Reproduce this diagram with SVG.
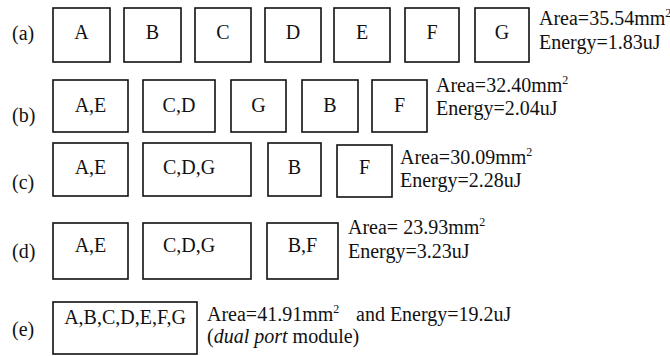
<svg xmlns="http://www.w3.org/2000/svg" width="670" height="356" viewBox="0 0 670 356">
<style>
  .bx{fill:#fff;stroke:#111;stroke-width:1.6}
  text{font-family:"Liberation Serif","Times New Roman",serif;font-size:20px;fill:#111}
  .c{text-anchor:middle}
  .sup{font-size:12px}
</style>
<rect width="670" height="356" fill="#fff"/>
<g id="labels">
  <text x="12" y="40">(a)</text>
  <text x="12" y="122">(b)</text>
  <text x="12" y="189">(c)</text>
  <text x="12" y="258">(d)</text>
  <text x="12" y="336">(e)</text>
</g>
<g id="row-a">
  <g id="a-A"><rect class="bx" x="53" y="8" width="57" height="54"/><text class="c" x="81.5" y="39">A</text></g>
  <g id="a-B"><rect class="bx" x="124" y="8" width="57" height="54"/><text class="c" x="152.5" y="39">B</text></g>
  <g id="a-C"><rect class="bx" x="195" y="8" width="56" height="54"/><text class="c" x="223" y="39">C</text></g>
  <g id="a-D"><rect class="bx" x="265" y="8" width="56" height="54"/><text class="c" x="293" y="39">D</text></g>
  <g id="a-E"><rect class="bx" x="334" y="8" width="56" height="54"/><text class="c" x="362" y="39">E</text></g>
  <g id="a-F"><rect class="bx" x="405" y="8" width="54" height="54"/><text class="c" x="432" y="39">F</text></g>
  <g id="a-G"><rect class="bx" x="475" y="8" width="54" height="54"/><text class="c" x="502" y="39">G</text></g>
  <text x="539" y="25">Area=35.54mm<tspan class="sup" dy="-8">2</tspan></text>
  <text x="539" y="49">Energy=1.83uJ</text>
</g>
<g id="row-b">
  <g id="b-AE"><rect class="bx" x="53" y="80" width="75" height="52"/><text class="c" x="90.5" y="112">A,E</text></g>
  <g id="b-CD"><rect class="bx" x="143" y="80" width="72" height="52"/><text class="c" x="179" y="112">C,D</text></g>
  <g id="b-G"><rect class="bx" x="231" y="80" width="55" height="52"/><text class="c" x="258.5" y="112">G</text></g>
  <g id="b-B"><rect class="bx" x="302" y="80" width="56" height="52"/><text class="c" x="330" y="112">B</text></g>
  <g id="b-F"><rect class="bx" x="372" y="80" width="55" height="52"/><text class="c" x="399.5" y="112">F</text></g>
  <text x="436" y="92">Area=32.40mm<tspan class="sup" dy="-8">2</tspan></text>
  <text x="436" y="115">Energy=2.04uJ</text>
</g>
<g id="row-c">
  <g id="c-AE"><rect class="bx" x="53" y="143" width="75" height="53"/><text class="c" x="90.5" y="174">A,E</text></g>
  <g id="c-CDG"><rect class="bx" x="143" y="143" width="108" height="53"/><text class="c" x="189" y="174">C,D,G</text></g>
  <g id="c-B"><rect class="bx" x="268" y="143" width="53" height="53"/><text class="c" x="294.5" y="174">B</text></g>
  <g id="c-F"><rect class="bx" x="337" y="145" width="55" height="52"/><text class="c" x="364.5" y="174">F</text></g>
  <text x="400" y="164">Area=30.09mm<tspan class="sup" dy="-8">2</tspan></text>
  <text x="400" y="187">Energy=2.28uJ</text>
</g>
<g id="row-d">
  <g id="d-AE"><rect class="bx" x="53" y="223" width="75" height="56"/><text class="c" x="90.5" y="252">A,E</text></g>
  <g id="d-CDG"><rect class="bx" x="143" y="223" width="108" height="56"/><text class="c" x="189" y="252">C,D,G</text></g>
  <g id="d-BF"><rect class="bx" x="267" y="223" width="71" height="56"/><text class="c" x="302.5" y="252">B,F</text></g>
  <text x="348" y="234">Area= 23.93mm<tspan class="sup" dy="-8">2</tspan></text>
  <text x="348" y="258">Energy=3.23uJ</text>
</g>
<g id="row-e">
  <g id="e-all"><rect class="bx" x="53" y="302" width="144" height="52"/><text class="c" x="125" y="324">A,B,C,D,E,F,G</text></g>
  <text x="207" y="321">Area=41.91mm<tspan class="sup" dy="-8">2</tspan><tspan dy="8" x="356">and Energy=19.2uJ</tspan></text>
  <text x="207" y="343">(<tspan font-style="italic">dual port</tspan> module)</text>
</g>
</svg>
